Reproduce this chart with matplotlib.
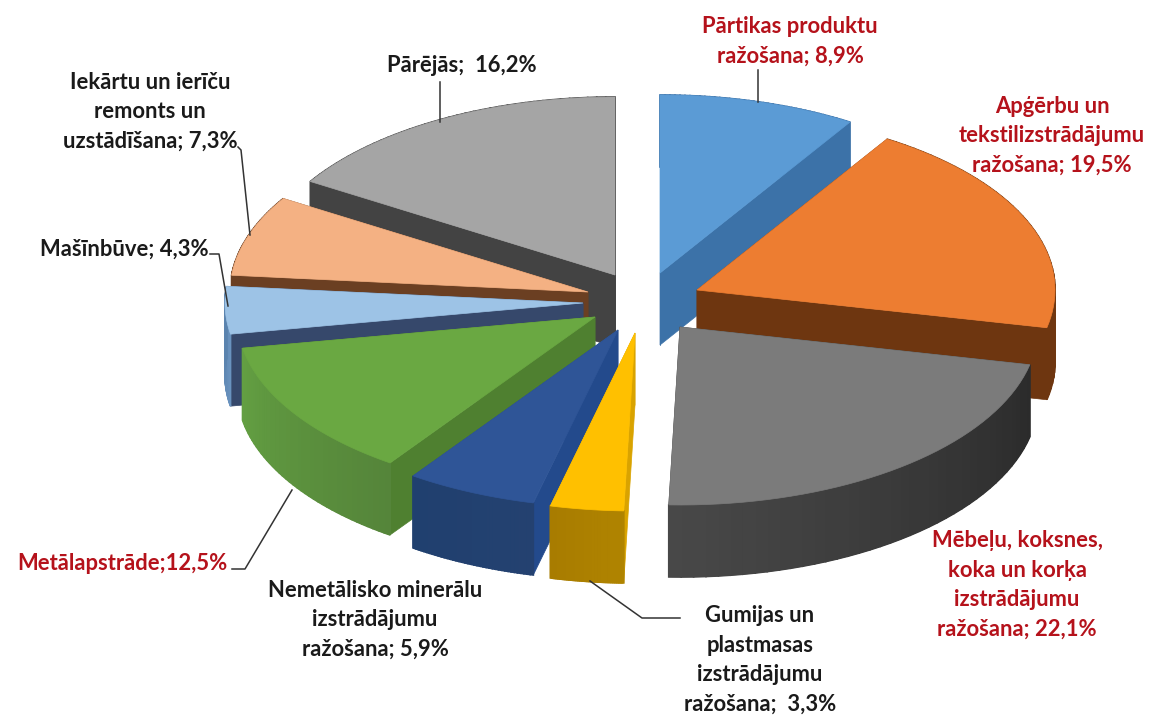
import numpy as np
from matplotlib import pyplot as plt

plt.rcParams['font.family'] = ['Lato', 'DejaVu Sans']

# sector shares in percent, clockwise from 12 o'clock
sectors = ['Partikas', 'Apgerbu', 'Mebelu', 'Gumijas', 'Nemetalisko',
           'Metalapstrade', 'Masinbuve', 'Iekartu', 'Parejas']
shares = [8.9, 19.5, 22.1, 3.3, 5.9, 12.5, 4.3, 7.3, 16.2]

labels = ['Pārtikas produktu\nražošana; 8,9%',
          'Apģērbu un\ntekstilizstrādājumu\nražošana; 19,5%',
          'Mēbeļu, koksnes,\nkoka un korķa\nizstrādājumu\nražošana; 22,1%',
          'Gumijas un\nplastmasas\nizstrādājumu\nražošana;  3,3%',
          'Nemetālisko minerālu\nizstrādājumu\nražošana; 5,9%',
          'Metālapstrāde;12,5%',
          'Mašīnbūve; 4,3%',
          'Iekārtu un ierīču\nremonts un\nuzstādīšana; 7,3%',
          'Pārējās;  16,2%']

# styling and layout, in figure pixels
label_xy = [(790, 41), (1052, 136), (1017, 585), (760, 660), (375, 620),
            (122, 563), (124, 249), (150, 112), (462, 66)]
label_red = [True, True, True, False, False, True, False, False, False]
apex = [(660, 273), (697, 290), (680, 327), (635, 333), (618, 330),
        (595, 317), (583, 303), (588, 292), (615, 275)]
top_col = ['#5b9bd5', '#ed7d31', '#7b7b7b', '#ffc000', '#2f5597',
           '#6aa842', '#9dc3e6', '#f4b183', '#a5a5a5']
face_col = ['#3c72a8', '#6e3610', '#3a3a3a', '#d9a300', '#234a8c',
            '#4f8030', '#36486b', '#6b3f22', '#434343']
wall_a = ['#3c72a8', '#7a3c10', '#2b2b2b', '#b08400', '#244170',
          '#55853a', '#6a93bf', '#6b3f22', '#434343']
wall_b = ['#3c72a8', '#6e3610', '#484848', '#a87c00', '#20406f',
          '#639f42', '#5a83ae', '#6b3f22', '#434343']
draw_order = [8, 0, 7, 1, 6, 5, 2, 4, 3]
leaders = [[(238, 147), (241, 150), (250, 235)],
           [(758, 70), (758, 102)],
           [(440, 82), (440, 122)],
           [(210, 254), (219, 254), (228, 306)],
           [(232, 569), (245, 569), (292, 490)],
           [(680, 618), (642, 618), (590, 581)]]
rx, ry, depth = 358, 178, 72


def rim(cx, cy, t):
    return cx + rx * np.sin(t), cy - ry * np.cos(t)


def hex2rgb(c):
    return np.array([int(c[i:i + 2], 16) / 255 for i in (1, 3, 5)])


fig = plt.figure(figsize=(11.52, 7.15), dpi=100)
ax = fig.add_axes([0, 0, 1, 1])
ax.set_xlim(0, 1152)
ax.set_ylim(715, 0)
ax.axis('off')

edges = np.radians(np.concatenate([[0], np.cumsum(shares)]) * 3.6)

for i in draw_order:
    cx, cy = apex[i]
    z = draw_order.index(i) * 3
    t = np.linspace(edges[i], edges[i + 1], 41)
    x, y = rim(cx, cy, t)

    # radial side faces
    for k in (0, -1):
        ax.fill([cx, x[k], x[k], cx], [cy, y[k], y[k] + depth, cy + depth],
                color=face_col[i], lw=0.5, zorder=z + 1)

    # outer wall: one solid piece, then shading along the arc on top of it
    ca, cb = hex2rgb(wall_a[i]), hex2rgb(wall_b[i])
    ax.fill(np.r_[x, x[::-1]], np.r_[y, y[::-1] + depth], color=(ca + cb) / 2,
            lw=0.5, zorder=z + 2)
    for j in range(len(t) - 1):
        c = ca + (cb - ca) * j / (len(t) - 2)
        ax.fill([x[j], x[j + 1], x[j + 1], x[j]],
                [y[j], y[j + 1], y[j + 1] + depth, y[j] + depth],
                color=c, lw=1.2, zorder=z + 2)

    # top surface
    ax.fill(np.r_[cx, x], np.r_[cy, y], color=top_col[i], lw=0.5, zorder=z + 3)

for line in leaders:
    xs, ys = zip(*line)
    ax.plot(xs, ys, color='#333333', lw=1.1, zorder=50)

for text, (lx, ly), red in zip(labels, label_xy, label_red):
    ax.text(lx, ly, text, ha='center', va='center', fontsize=15.8,
            fontweight='bold', linespacing=1.5,
            color='#b5121b' if red else '#1a1a1a', zorder=60)

fig.savefig('out.png', dpi=100, facecolor='white')
